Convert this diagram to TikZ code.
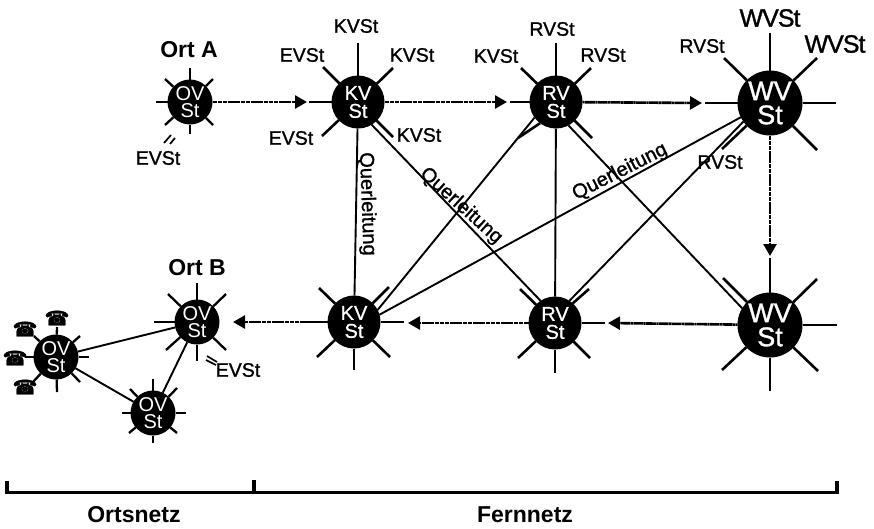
\documentclass[tikz,border=0pt]{standalone}
\usepackage{fontspec}
\setmainfont{Liberation Sans}
\newfontfamily\lab[FakeBold=1.2]{Liberation Sans}
\newfontfamily\wlab[FakeBold=0.8]{Liberation Sans}
\newfontfamily\phonefont[FakeBold=1.5]{DejaVu Sans}
\usetikzlibrary{arrows.meta}
\tikzset{
  station/.style={circle,fill=black,text=white,inner sep=-8pt,outer sep=0pt,align=center,draw=none},
  ovst/.style={station,minimum size=45pt,font=\fontsize{20}{17}\selectfont},
  kvst/.style={station,minimum size=53pt,font=\fontsize{20}{18}\selectfont\wlab},
  wvst/.style={station,minimum size=65pt,font=\fontsize{27}{24}\selectfont\lab},
  ray/.style={line width=2.6pt,black},
  ovray/.style={line width=2.3pt,black},
  cross/.style={line width=1.9pt,black},
  trunk/.style={line width=2.6pt,black,dash pattern=on 2.2pt off 0.35pt,-{Triangle[length=12pt,width=13pt]}},
  txt/.style={inner sep=0pt,font=\fontsize{19.5}{20}\selectfont\lab},
  big/.style={inner sep=0pt,font=\fontsize{25}{26}\selectfont\lab\addfontfeature{LetterSpace=-4}},
  head/.style={inner sep=0pt,font=\fontsize{23}{24}\selectfont\bfseries},
  qlab/.style={inner sep=0pt,font=\fontsize{20}{20}\selectfont\lab},
  phone/.style={inner sep=0pt,font=\fontsize{20}{20}\selectfont\phonefont},
  brace/.style={line width=3.2pt,black}
}
\begin{document}
\begin{tikzpicture}[x=1pt,y=-1pt]
\useasboundingbox (0,0) rectangle (874,528);
% stations
\node[ovst] (ova) at (190,102) {OV\\St};
\node[kvst] (kvt) at (358,102) {KV\\St};
\node[kvst] (rvt) at (556,102) {RV\\St};
\node[wvst] (wvt) at (770,103) {WV\\St};
\node[kvst] (kvb) at (354,322) {KV\\St};
\node[kvst] (rvb) at (555,323) {RV\\St};
\node[wvst] (wvb) at (770,325) {WV\\St};
\node[ovst] (ovb) at (197,322) {OV\\St};
\node[ovst] (ovl) at (56,357) {OV\\St};
\node[ovst] (ovu) at (153,413) {OV\\St};
% rays
\foreach \p in {(190,68),(213,79),(213,125),(190,134),(165,125),(156,102),(165,79)} \draw[ovray] (ova) -- \p;
\foreach \p in {(358,43),(393,68),(322,136),(309,102),(323,67)} \draw[ray] (kvt) -- \p;
\foreach \p in {(556,43),(591,68),(521,68),(510,102)} \draw[ray] (rvt) -- \p;
\foreach \p in {(770,33),(817,58),(836,103),(817,150),(724,58),(705,103)} \draw[ray] (wvt) -- \p;
\foreach \p in {(770,258),(817,279),(837,325),(818,371),(770,391),(722,370)} \draw[ray] (wvb) -- \p;
\foreach \p in {(605,323),(590,358),(555,373),(518,358)} \draw[ray] (rvb) -- \p;
\foreach \p in {(300,322),(319,288),(317,357),(354,370),(390,357),(404,322)} \draw[ray] (kvb) -- \p;
\foreach \p in {(197,283),(226,294),(226,350),(197,361),(166,350),(154,322),(168,294)} \draw[ovray] (ovb) -- \p;
\foreach \p in {(57,327),(80,336),(89,357),(80,382),(57,392),(33,382),(25,357),(34,336)} \draw[ovray] (ovl) -- \p;
\foreach \p in {(153,379),(177,388),(186,413),(177,433),(153,443),(129,433),(122,413),(130,389)} \draw[ovray] (ovu) -- \p;
% parallel stubs
\draw[ray] (kvt.-45) -- (393,137);
\draw[ray] (rvt.-45) -- (592,138);
\draw[ray] (rvt.-127) -- (518,138);
\draw[ray] (wvt.224) -- (722,149);
\draw[ray] (wvb.135) -- (723,278);
\draw[ray] (rvb.48) -- (589,289);
\draw[ray] (rvb.136) -- (520,289);
\draw[ray] (kvb.45) -- (389,287);
% cross connections
\draw[cross] (kvt) -- (kvb);
\draw[cross] (rvt) -- (rvb);
\draw[cross] (kvt.-59) -- (rvb.123);
\draw[cross] (rvt.-62) -- (wvb.149);
\draw[cross] (rvt.216) -- (kvb.27);
\draw[cross] (wvt.206) -- (kvb.16);
\draw[cross] (wvt.215) -- (rvb.57);
\draw[cross] (ovl) -- (ovb);
\draw[cross] (ovl) -- (ovu);
\draw[cross] (ovb) -- (ovu);
% trunk arrows
\coordinate (t1) at (307,102);
\coordinate (t2) at (507,102);
\coordinate (t3) at (702,103);
\coordinate (t4) at (770,256);
\coordinate (t5) at (608,323);
\coordinate (t6) at (408,323);
\coordinate (t7) at (233,322);
\draw[trunk] (ova) -- (t1);
\draw[trunk] (kvt) -- (t2);
\draw[trunk] (rvt) -- (t3);
\draw[trunk] (wvt) -- (t4);
\draw[trunk] (wvb) -- (t5);
\draw[trunk] (rvb) -- (t6);
\draw[trunk] (kvb) -- (t7);
% EVSt ticks
\draw[line width=1.7pt] (164,143) -- (171,135) (170,144) -- (175,138);
\draw[line width=1.7pt] (207,356) -- (217,362) (206,360) -- (216,365);
% labels
\node[head] (orta) at (189,50) {Ort A};
\node[head] (ortb) at (197,268) {Ort B};
\node[txt] (l1) at (158,158) {EVSt};
\node[txt] (l2) at (356,26) {KVSt};
\node[txt] (l3) at (302,55) {EVSt};
\node[txt] (l4) at (412,55) {KVSt};
\node[txt] (l5) at (291,138) {EVSt};
\node[txt] (l6) at (419,135) {KVSt};
\node[txt] (l7) at (552,29) {RVSt};
\node[txt] (l8) at (496,56) {KVSt};
\node[txt] (l9) at (603,55) {RVSt};
\node[txt] (l10) at (702,46) {RVSt};
\node[txt] (l11) at (720,162) {RVSt};
\node[big] (l12) at (770,18) {WVSt};
\node[big] (l13) at (835,44) {WVSt};
\node[txt] (l14) at (238,370) {EVSt};
\node[qlab,rotate=-88] (q1) at (367,204) {Querleitung};
\node[qlab,rotate=-42] (q2) at (461,206) {Querleitung};
\node[qlab,rotate=27] (q3) at (620,172) {Querleitung};
% telephones
\node[phone] (p1) at (57,318) {☎};
\node[phone] (p2) at (25,329) {☎};
\node[phone] (p3) at (15,358) {☎};
\node[phone] (p4) at (25,387) {☎};
% brackets
\coordinate (b1) at (7,481);
\coordinate (b2) at (7,492.5);
\coordinate (b3) at (837,492.5);
\coordinate (b4) at (837,481);
\coordinate (b5) at (254,480);
\coordinate (b6) at (254,492.5);
\draw[brace] (b1) -- (b2) -- (b3) -- (b4);
\draw[brace] (b5) -- (b6);
\node[head] (ortsnetz) at (134,515) {Ortsnetz};
\node[head] (fernnetz) at (525,515) {Fernnetz};
\end{tikzpicture}
\end{document}
